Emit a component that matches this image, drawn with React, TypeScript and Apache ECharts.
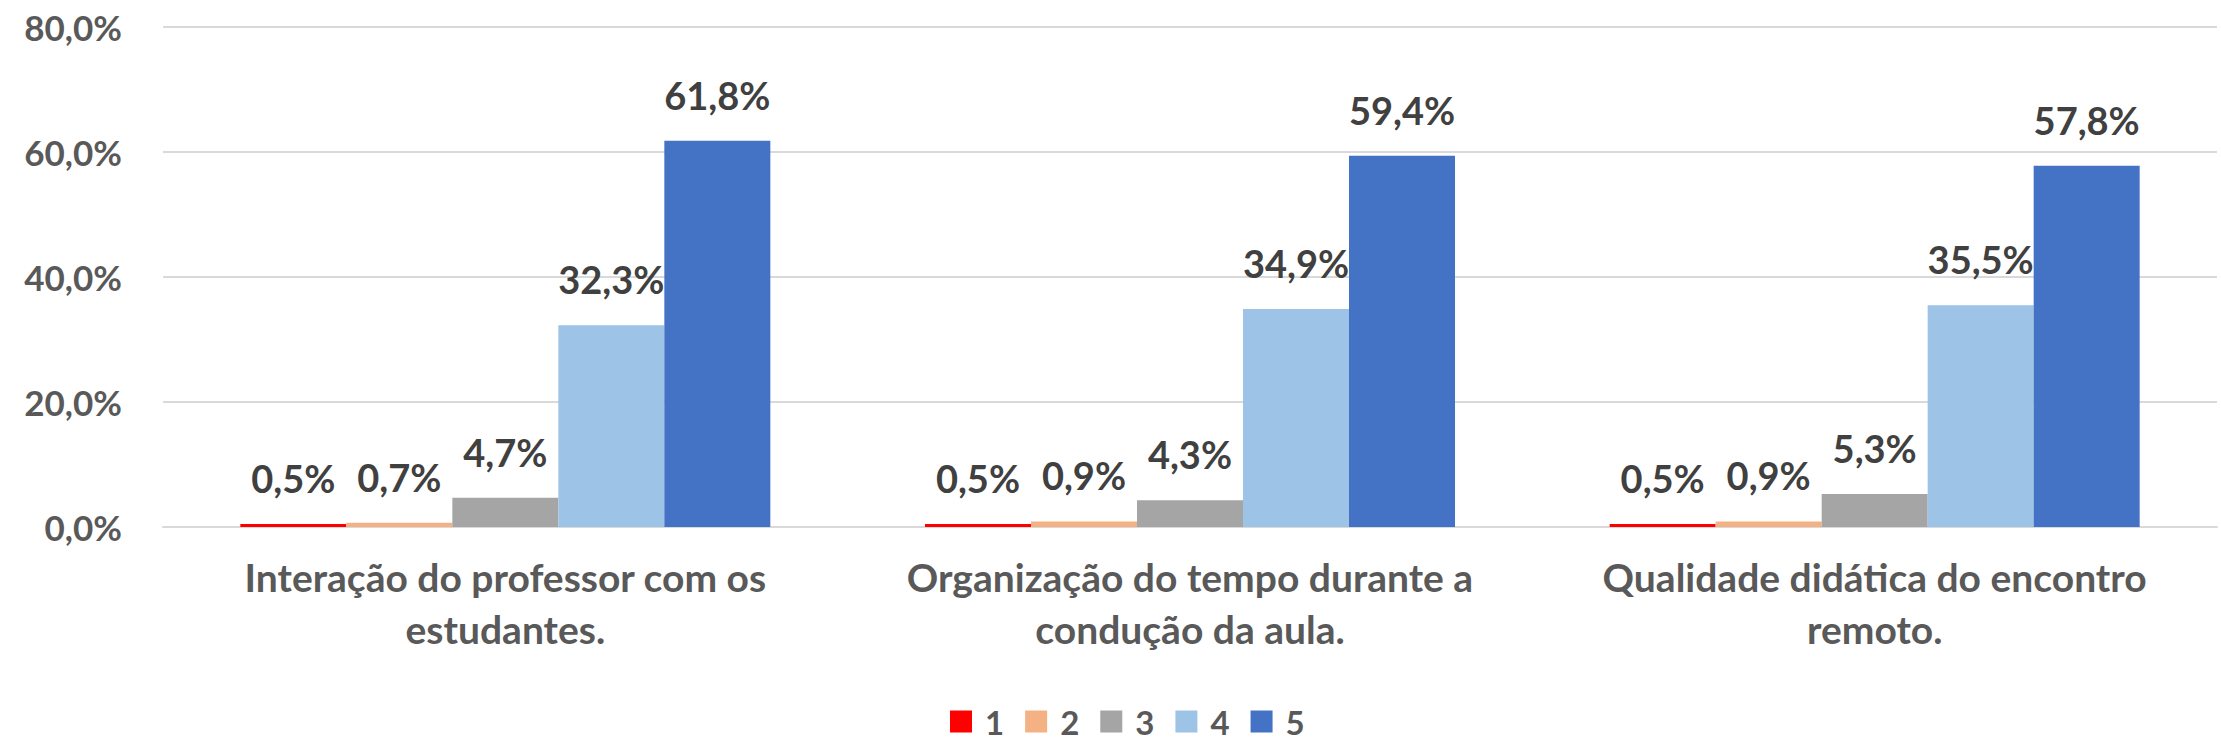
import React, { useEffect, useRef } from "react";
import * as echarts from "echarts";

const categories = [
  "Interação do professor com os\nestudantes.",
  "Organização do tempo durante a\ncondução da aula.",
  "Qualidade didática do encontro\nremoto.",
];
const seriesNames = ["1", "2", "3", "4", "5"];
const seriesColors = ["#FF0000", "#F4B183", "#A5A5A5", "#9DC3E6", "#4472C4"];
const values1 = [0.5, 0.5, 0.5];
const values2 = [0.7, 0.9, 0.9];
const values3 = [4.7, 4.3, 5.3];
const values4 = [32.3, 34.9, 35.5];
const values5 = [61.8, 59.4, 57.8];
const allValues = [values1, values2, values3, values4, values5];
const yTicks = [0, 20, 40, 60, 80];

const FONT = "Lato, 'Open Sans', sans-serif";
const fmt = (v: number) => v.toFixed(1).replace(".", ",") + "%";

export default function App() {
  const ref = useRef<HTMLDivElement>(null);
  useEffect(() => {
    document.body.style.margin = "0";
    if (!ref.current) return;
    const chart = echarts.init(ref.current, undefined, { renderer: "svg" });
    chart.setOption({
      animation: false,
      backgroundColor: "#ffffff",
      grid: { left: 163, right: 4, top: 27, bottom: 215, containLabel: false },
      legend: {
        left: 950,
        top: 705,
        padding: 0,
        itemWidth: 22,
        itemHeight: 22,
        itemGap: 21,
        icon: "rect",
        data: seriesNames,
        textStyle: {
          fontFamily: FONT,
          fontWeight: "bold",
          fontSize: 33,
          lineHeight: 30,
          color: "#595959",
          padding: [0, 0, 0, 8],
        },
      },
      xAxis: {
        type: "category",
        data: categories,
        axisTick: { show: false },
        axisLine: { show: true, lineStyle: { color: "#D9D9D9", width: 2 } },
        axisLabel: {
          interval: 0,
          margin: 24,
          fontFamily: FONT,
          fontWeight: "bold",
          fontSize: 39,
          lineHeight: 52,
          color: "#595959",
        },
      },
      yAxis: {
        type: "value",
        min: yTicks[0],
        max: yTicks[yTicks.length - 1],
        interval: 20,
        axisLine: { show: false },
        axisTick: { show: false },
        splitLine: { lineStyle: { color: "#D9D9D9", width: 2 } },
        axisLabel: {
          margin: 41,
          fontFamily: FONT,
          fontWeight: "bold",
          fontSize: 35,
          color: "#595959",
          formatter: (v: number) => fmt(v),
        },
      },
      series: seriesNames.map((name, i) => ({
        name,
        type: "bar",
        data: allValues[i],
        barWidth: 106,
        barGap: "0%",
        itemStyle: { color: seriesColors[i] },
        label: {
          show: true,
          position: "top",
          distance: 27,
          fontFamily: FONT,
          fontWeight: "bold",
          fontSize: 38,
          color: "#404040",
          formatter: (p: any) => fmt(p.value),
        },
      })),
    });
    return () => chart.dispose();
  }, []);
  return <div ref={ref} style={{ width: 2221, height: 742 }} />;
}
